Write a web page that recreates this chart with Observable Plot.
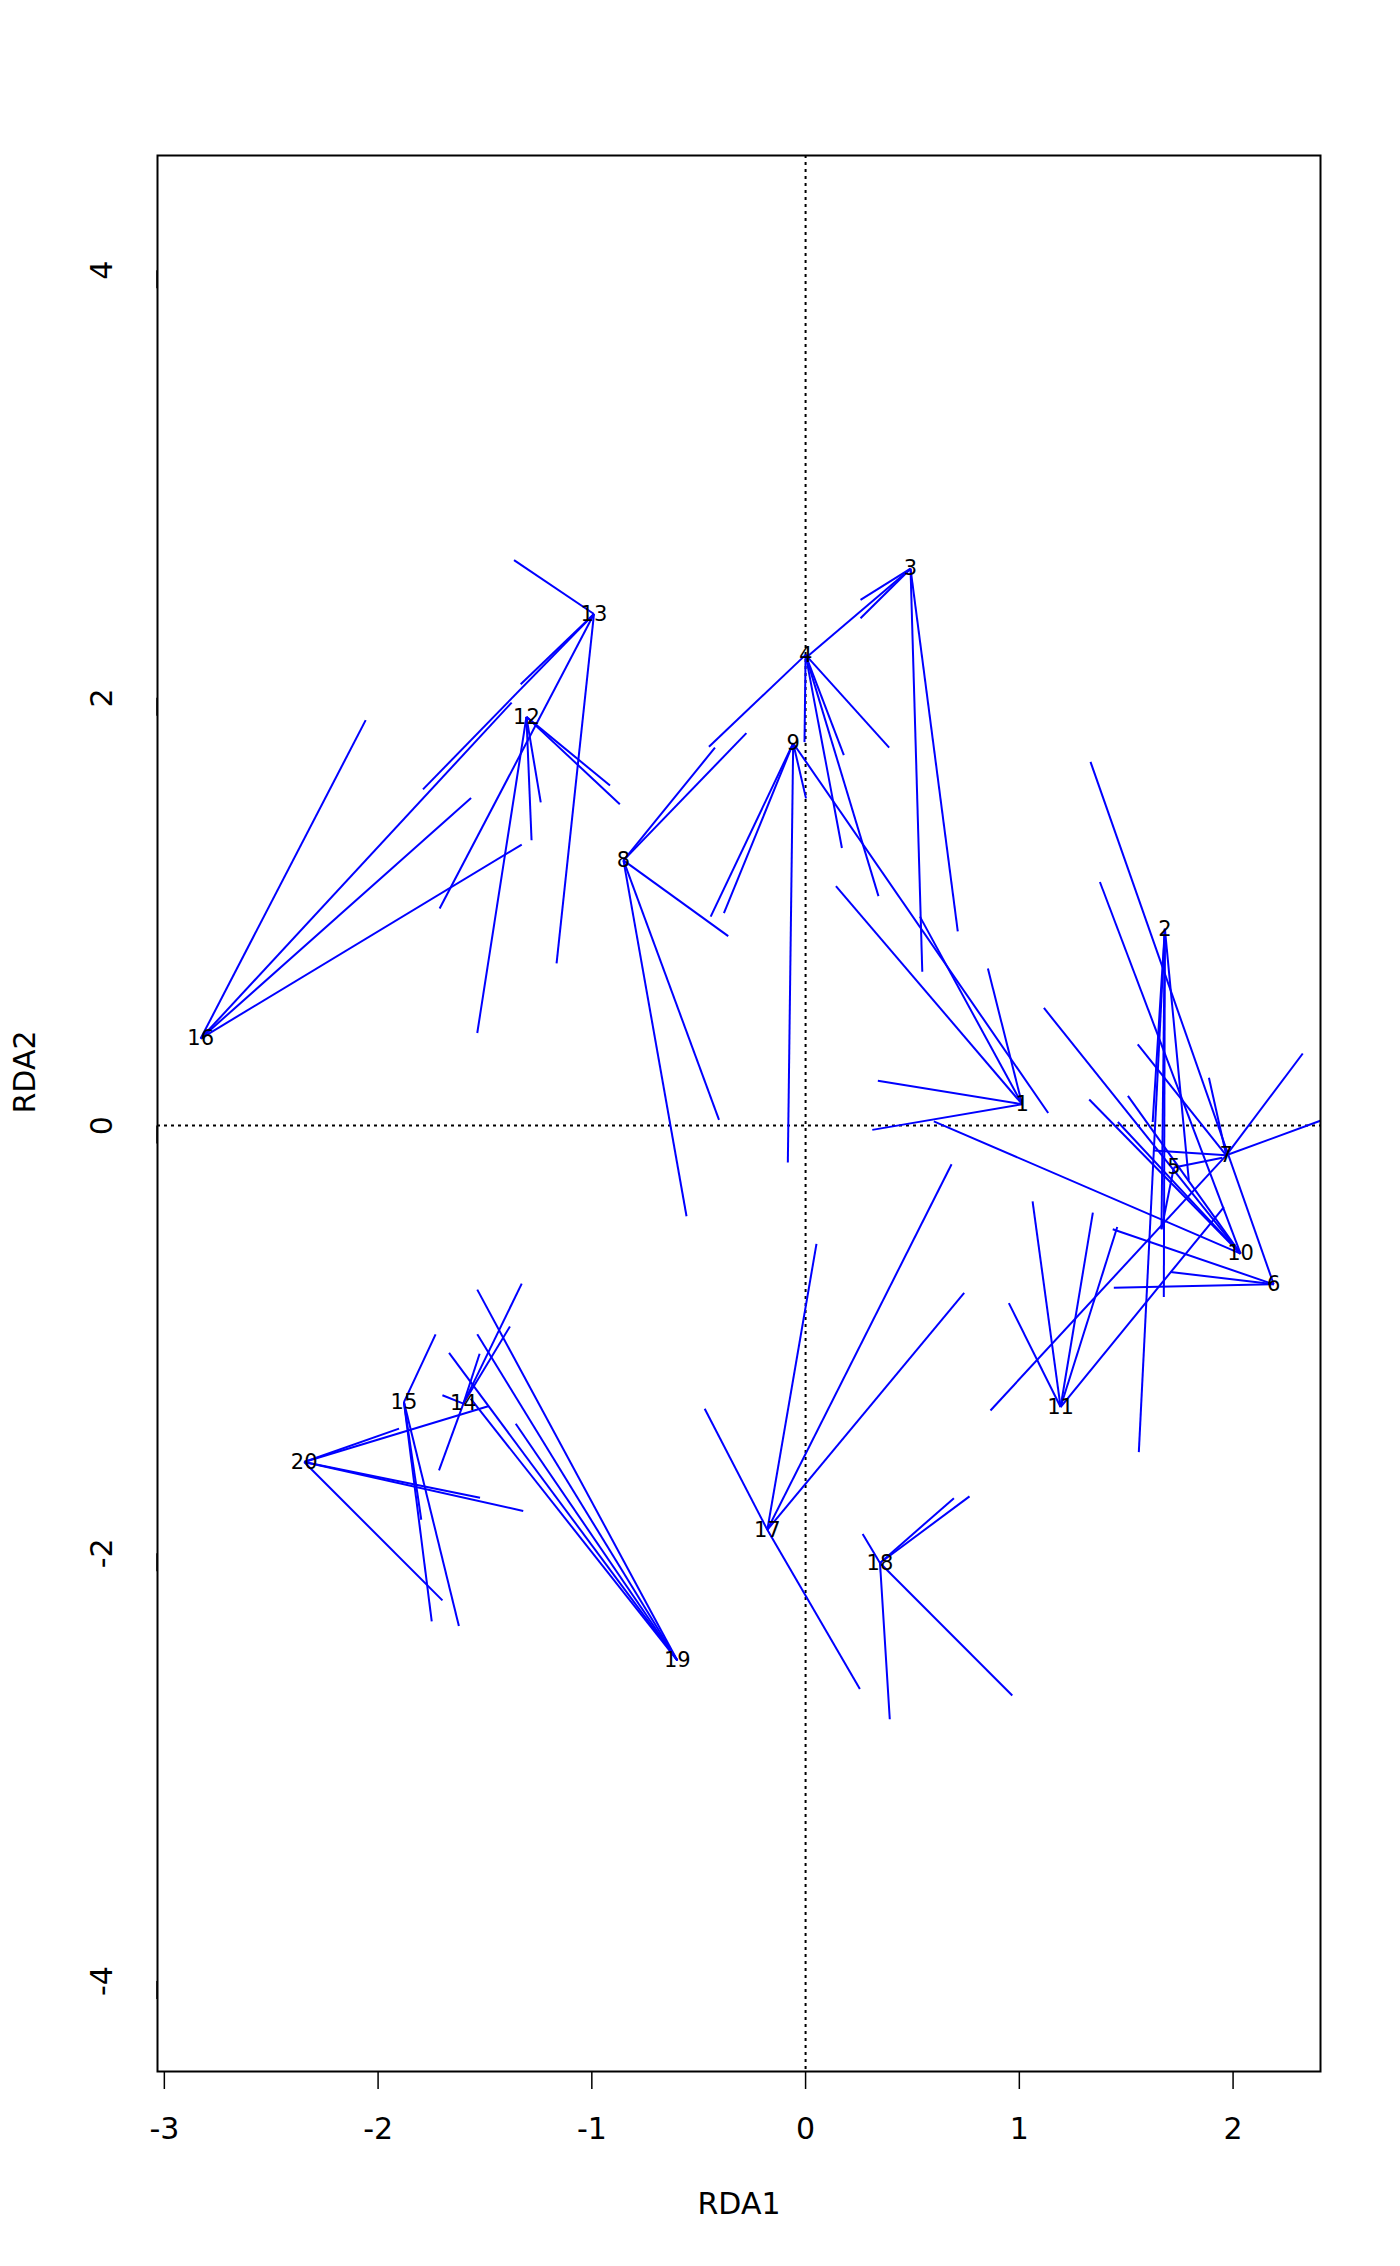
<!DOCTYPE html>
<html>
<head>
<meta charset="utf-8">
<script src="https://cdn.jsdelivr.net/npm/d3@7"></script>
<script src="https://cdn.jsdelivr.net/npm/@observablehq/plot@0.6"></script>
<style>
  html, body { margin: 0; padding: 0; background: #fff; }
  #chart svg { display: block; }
</style>
</head>
<body>
<div id="chart"></div>
<script>
// ---------- Site centroids (labels drawn at these points) ----------
const sites = ["1","2","3","4","5","6","7","8","9","10",
               "11","12","13","14","15","16","17","18","19","20"];
const siteX = [1.013, 1.681, 0.491, 0.000, 1.723, 2.190, 1.968, -0.852, -0.058, 2.035,
               1.193, -1.306, -0.990, -1.601, -1.879, -2.830, -0.179, 0.348, -0.600, -2.346];
const siteY = [0.100, 0.920, 2.604, 2.201, -0.196, -0.742, -0.139, 1.240, 1.788, -0.599,
               -1.316, 1.911, 2.392, -1.300, -1.293, 0.407, -1.890, -2.045, -2.501, -1.573];

// ---------- Spokes: site -> end point ----------
const spokeSite = [
  "1","1","1","1","1",
  "2","2","2","2","2",
  "3","3","3","3","3",
  "4","4","4","4","4","4",
  "5","5",
  "6","6","6","6",
  "7","7","7","7","7","7",
  "8","8","8","8","8",
  "9","9","9","9","9",
  "10","10","10","10","10","10",
  "11","11","11","11","11",
  "12","12","12","12","12",
  "13","13","13","13","13",
  "14","14","14","14","14",
  "15","15","15","15",
  "16","16","16","16",
  "17","17","17","17","17",
  "18","18","18","18","18",
  "19","19","19","19","19",
  "20","20","20","20","20"
];
const spokeX = [
  0.142, 0.535, 0.853, 0.338, 0.312,
  1.624, 1.559, 1.676, 1.793, 1.665,
  0.257, 0.257, 0.546, 0.712, 0.010,
  -0.452, -0.005, 0.179, 0.391, 0.170, 0.341,
  1.665, 1.950,
  1.333, 1.707, 1.442, 1.437,
  1.554, 1.887, 2.326, 2.500, 0.865, 1.629,
  -0.424, -0.277, -0.362, -0.405, -0.557,
  -0.444, -0.382, -0.083, 0.002, 1.135,
  0.600, 1.115, 1.327, 1.508, 1.461, 1.377,
  0.951, 1.062, 1.344, 1.458, 1.957,
  -1.536, -1.282, -1.239, -0.915, -0.869,
  -1.364, -1.333, -1.790, -1.712, -1.165,
  -1.328, -1.383, -1.525, -1.715, -1.699,
  -1.731, -1.798, -1.749, -1.622,
  -2.058, -1.375, -1.565, -1.328,
  -0.472, 0.051, 0.683, 0.742, 0.254,
  0.267, 0.694, 0.767, 0.967, 0.394,
  -1.536, -1.536, -1.668, -1.356, -1.567,
  -1.902, -1.481, -1.523, -1.321, -1.699
];
const spokeY = [
  1.120, 0.977, 0.734, 0.210, -0.020,
  0.017, -1.527, -0.802, -0.256, -0.485,
  2.458, 2.372, 0.719, 0.908, 2.195,
  1.771, 1.793, 1.732, 1.767, 1.298, 1.073,
  -0.485, -0.150,
  1.701, -0.685, -0.758, -0.485,
  0.380, 0.224, 0.337, 0.056, -1.332, -0.116,
  1.767, 1.835, 0.886, 0.027, -0.424,
  0.977, 0.993, -0.173, 1.530, 0.059,
  0.020, 0.550, 0.122, 0.139, 0.017, 1.139,
  -0.830, -0.354, -0.407, -0.474, -0.381,
  0.433, 1.334, 1.511, 1.590, 1.503,
  2.644, 2.064, 1.572, 1.015, 0.758,
  -0.739, -0.939, -1.067, -1.612, -1.261,
  -0.976, -1.843, -2.318, -2.340,
  1.896, 1.978, 1.532, 1.314,
  -1.324, -0.553, -0.181, -0.782, -2.634,
  -1.910, -1.742, -1.734, -2.665, -2.776,
  -0.767, -0.976, -1.063, -1.394, -1.277,
  -1.417, -1.311, -1.740, -1.802, -2.220
];

// ---------- Axes ----------
const xTicks = [-3, -2, -1, 0, 1, 2];
const yTicks = [-4, -2, 0, 2, 4];
const xTitle = "RDA1";
const yTitle = "RDA2";

// ---------- Build tables ----------
const centroids = sites.map((s, i) => ({site: s, x: siteX[i], y: siteY[i]}));
const bySite = new Map(centroids.map(d => [d.site, d]));
const spokes = spokeSite.map((s, i) => ({
  site: s,
  x1: bySite.get(s).x, y1: bySite.get(s).y,
  x2: spokeX[i], y2: spokeY[i]
}));

const chart = Plot.plot({
  width: 1400, height: 2266,
  marginLeft: 157, marginRight: 80, marginTop: 155, marginBottom: 195,
  style: {fontFamily: "DejaVu Sans", background: "white", color: "black"},
  x: {domain: [-3.032, 2.409]},
  y: {domain: [-4.423, 4.536]},
  marks: [
    Plot.ruleX([0], {stroke: "black", strokeWidth: 2, strokeDasharray: "3,4"}),
    Plot.ruleY([0], {stroke: "black", strokeWidth: 2, strokeDasharray: "3,4"}),
    Plot.link(spokes, {
      x1: "x1", y1: "y1", x2: "x2", y2: "y2",
      stroke: "#0000ff", strokeWidth: 2, clip: true
    }),
    Plot.text(centroids, {
      x: "x", y: "y", text: "site",
      fontSize: 21, fill: "black", textAnchor: "middle", lineAnchor: "middle"
    }),
    Plot.frame({stroke: "black", strokeWidth: 2}),
    Plot.axisX(xTicks, {
      anchor: "bottom", tickSize: 18, tickPadding: 28, fontSize: 30,
      tickFormat: d => String(d), label: null, strokeWidth: 1.5
    }),
    Plot.axisY(yTicks, {
      anchor: "left", tickSize: 18, tickPadding: 28, fontSize: 30,
      tickFormat: d => String(d), label: null, strokeWidth: 1.5,
      rotate: -90, textAnchor: "middle", lineAnchor: "bottom"
    }),
    Plot.text([xTitle], {frameAnchor: "bottom", dy: 142, fontSize: 30, fill: "black"}),
    Plot.text([yTitle], {frameAnchor: "left", dx: -132, rotate: -90, fontSize: 30, fill: "black"})
  ]
});

document.getElementById("chart").appendChild(chart);
</script>
</body>
</html>
